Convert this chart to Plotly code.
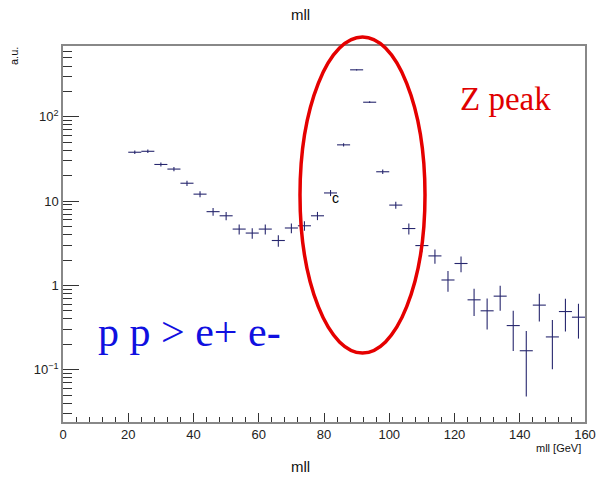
import plotly.graph_objects as go

# Data: bin centers (GeV), contents and errors (a.u.)
mll = [22, 26, 30, 34, 38, 42, 46, 50, 54, 58, 62, 66, 70, 74, 78, 82, 86, 90, 94, 98,
       102, 106, 110, 114, 118, 122, 126, 130, 134, 138, 142, 146, 150, 154, 158]
counts = [38.0, 39.0, 27.2, 24.0, 16.3, 12.1, 7.5, 6.7, 4.66, 4.18, 4.66, 3.41, 4.8, 5.1, 6.7,
          12.5, 46.5, 361.0, 149.0, 22.3, 8.97, 4.73, 2.97, 2.24, 1.16, 1.82, 0.675, 0.50,
          0.746, 0.334, 0.168, 0.584, 0.245, 0.49, 0.42]
errors = [1.8, 1.82, 1.52, 1.43, 1.18, 1.01, 0.80, 0.75, 0.63, 0.60, 0.63, 0.54, 0.64, 0.66,
          0.75, 1.03, 1.99, 5.5, 3.56, 1.38, 0.87, 0.70, 0.50, 0.43, 0.32, 0.39, 0.24, 0.20,
          0.245, 0.167, 0.12, 0.21, 0.144, 0.205, 0.186]
half_bin = [2.0] * len(mll)

x_ticks = [0, 20, 40, 60, 80, 100, 120, 140, 160]
y_ticks = [0.1, 1, 10, 100]
y_tick_text = ["10<sup>\u22121</sup>", "1", "10", "10<sup>2</sup>"]
y_minor = [m * 10.0 ** e for e in (-2, -1, 0, 1, 2) for m in range(2, 10)]

W, H = 597, 481
L, T = 63, 46
R = W - 585
B = H - 422
pw, ph = W - L - R, H - T - B

def px(x):  # window pixel -> paper x
    return (x - L) / pw

def py(y):  # window pixel -> paper y
    return (T + ph - y) / ph

navy = "#27276e"

fig = go.Figure()
fig.add_trace(go.Scatter(
    x=mll, y=counts, mode="markers",
    marker=dict(size=1, color=navy, opacity=0),
    error_y=dict(type="data", array=errors, color=navy, thickness=1.1, width=0),
    error_x=dict(type="data", array=half_bin, color=navy, thickness=1.1, width=0),
    showlegend=False, hoverinfo="x+y",
))

axis_font = dict(family="Liberation Sans, Arial, sans-serif", size=13, color="#222")

fig.update_layout(
    width=W, height=H, autosize=False,
    margin=dict(l=L, r=R, t=T, b=B, autoexpand=False),
    paper_bgcolor="white", plot_bgcolor="white",
    xaxis=dict(
        range=[0, 160], tickmode="array", tickvals=x_ticks,
        ticks="inside", ticklen=9, tickcolor="#333", tickwidth=1,
        minor=dict(dtick=4, ticks="inside", ticklen=5, tickcolor="#333", tickwidth=1, showgrid=False),
        showgrid=False, zeroline=False, automargin=False,
        showline=True, linecolor="#888", linewidth=1.5, mirror=True,
        tickfont=axis_font,
    ),
    yaxis=dict(
        type="log", range=[-1.62, 2.84],
        tickmode="array", tickvals=y_ticks, ticktext=y_tick_text,
        ticks="inside", ticklen=16, tickcolor="#333", tickwidth=1,
        minor=dict(tickmode="array", tickvals=y_minor, ticks="inside", ticklen=9,
                   tickcolor="#333", tickwidth=1, showgrid=False),
        showgrid=False, zeroline=False, automargin=False,
        showline=True, linecolor="#888", linewidth=1.5, mirror=True,
        tickfont=axis_font,
    ),
    shapes=[dict(
        type="circle", xref="paper", yref="paper",
        x0=px(300), x1=px(425), y0=py(353), y1=py(37),
        line=dict(color="#e50000", width=3.5),
    )],
)

sans = "Liberation Sans, Arial, sans-serif"
serif = "Liberation Serif, Times New Roman, serif"
anns = [
    dict(text="mll", x=px(300), y=py(14), font=dict(family=sans, size=15, color="#111")),
    dict(text="mll", x=px(300), y=py(466), font=dict(family=sans, size=15, color="#111")),
    dict(text="mll [GeV]", x=px(583), y=py(448), xanchor="right",
         font=dict(family=sans, size=11, color="#111")),
    dict(text="a.u.", x=px(14), y=py(45), yanchor="top", textangle=-90,
         font=dict(family=sans, size=11, color="#111")),
    dict(text="Z peak", x=px(505), y=py(99), font=dict(family=serif, size=33, color="#e00000")),
    dict(text="p p &gt; e+ e-", x=px(189), y=py(332), font=dict(family=serif, size=42, color="#1010e0")),
    dict(text="c", x=px(335), y=py(198), font=dict(family=sans, size=14, color="#000")),
]
for a in anns:
    base = dict(xref="paper", yref="paper", showarrow=False, xanchor="center", yanchor="middle")
    base.update(a)
    fig.add_annotation(**base)

fig.write_html(
    "out.html",
    config={"displayModeBar": False},
    post_script="document.body.style.margin='0';document.body.style.overflow='hidden';",
)
